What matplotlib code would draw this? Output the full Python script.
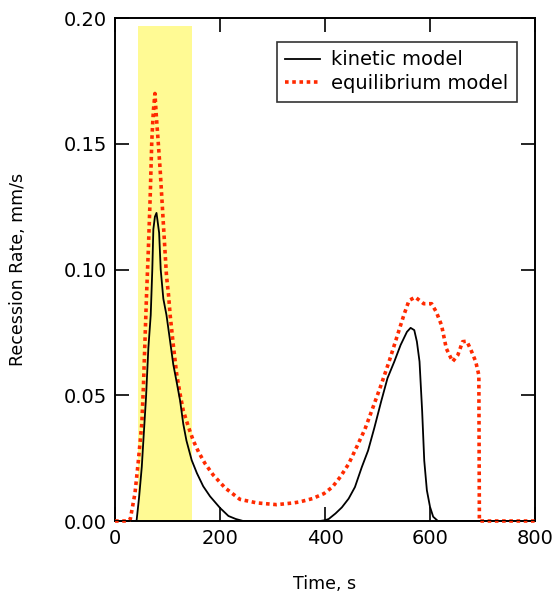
import matplotlib
matplotlib.use("Agg")
import matplotlib.pyplot as plt

# kinetic model (black)
t_kin = [0, 41, 46, 51, 54, 59, 63.5, 68, 71, 73, 76, 79, 84, 87, 92, 98,
         105, 111, 117, 124, 130, 136, 146, 156, 168, 181, 200, 216, 230,
         244, 390, 400, 407, 420, 432, 445, 457, 470, 482, 494, 507, 519,
         532, 544, 556, 563, 570, 575, 580, 585, 589, 594, 600, 606, 615, 800]
r_kin = [0, 0, 0.0098, 0.0216, 0.032, 0.049, 0.0688, 0.0819, 0.100, 0.116,
         0.121, 0.1225, 0.1146, 0.100, 0.0884, 0.0819, 0.0714, 0.0622,
         0.0557, 0.0478, 0.0386, 0.032, 0.0242, 0.019, 0.0138, 0.0098,
         0.0052, 0.002, 0.0008, 0, 0, 0.0003, 0.0008, 0.003, 0.0054, 0.0089,
         0.0135, 0.0214, 0.028, 0.0371, 0.0476, 0.0568, 0.0634, 0.070,
         0.0752, 0.0768, 0.0759, 0.0713, 0.0634, 0.0437, 0.024, 0.0122,
         0.0056, 0.0017, 0, 0]

# equilibrium model (red dotted)
t_eq = [0, 25, 29, 38, 44, 51, 54, 57, 60, 63.5, 67, 70, 73, 76, 79, 82.5,
        86, 89, 92, 95, 98, 102, 105, 111, 117.5, 124, 130, 140, 149, 159,
        171, 187, 210, 238, 270, 308, 340, 352, 376, 398, 414, 429, 445,
        460, 476, 491, 507, 522, 538, 550, 560, 572, 588, 603, 612, 622,
        631, 643, 653, 662, 670, 678, 687, 693, 694, 800]
r_eq = [0, 0, 0.0007, 0.011, 0.023, 0.0386, 0.053, 0.0714, 0.0897, 0.108,
        0.129, 0.151, 0.163, 0.170, 0.160, 0.150, 0.1395, 0.129, 0.1185,
        0.108, 0.0976, 0.0897, 0.0819, 0.070, 0.0583, 0.0504, 0.0439,
        0.0373, 0.032, 0.0275, 0.023, 0.0183, 0.0131, 0.0086, 0.0072,
        0.0065, 0.0072, 0.0076, 0.0089, 0.0109, 0.0135, 0.0175, 0.0227,
        0.0293, 0.0365, 0.045, 0.0542, 0.0634, 0.0739, 0.0818, 0.0877,
        0.089, 0.0864, 0.0864, 0.0831, 0.0778, 0.0686, 0.0634, 0.066,
        0.0713, 0.0715, 0.068, 0.0634, 0.058, 0, 0]

band_x = [44.5, 146]
band_top = 0.197

xticks = [0, 200, 400, 600, 800]
yticks = [0.00, 0.05, 0.10, 0.15, 0.20]

plt.rcParams["font.family"] = ["DejaVu Sans"]

fig = plt.figure(figsize=(5.6, 5.97), dpi=100)
ax = fig.add_axes([0.2054, 0.1273, 0.75, 0.8425])

ax.fill_between(band_x, 0, band_top, color="#fffa94", linewidth=0, zorder=1)
ax.plot(t_kin, r_kin, color="black", linewidth=1.3, label="kinetic model", zorder=4)
ax.plot(t_eq, r_eq, color="#ff2a00", linewidth=2.6, linestyle=(0, (1, 1)),
        dash_capstyle="butt", label="equilibrium model", zorder=3, clip_on=False)

ax.set_xlim(0, 800)
ax.set_ylim(0, 0.20)
ax.set_xticks(xticks)
ax.set_yticks(yticks)
ax.set_yticklabels([f"{v:.2f}" for v in yticks])
ax.tick_params(direction="in", length=10, width=1.2, labelsize=14, pad=6,
               top=True, right=True)
for s in ax.spines.values():
    s.set_linewidth(1.4)

ax.set_xlabel("Time, s", fontsize=12.5, labelpad=19)
ax.set_ylabel("Recession Rate, mm/s", fontsize=12.5, labelpad=26)

leg = ax.legend(loc="upper right", bbox_to_anchor=(0.957, 0.953), fontsize=14,
                frameon=True, fancybox=False, handlelength=1.8,
                borderpad=0.45, labelspacing=0.25, handletextpad=0.55,
                borderaxespad=0)
leg.get_frame().set_edgecolor("black")
leg.get_frame().set_linewidth(1.2)

fig.savefig("out.png", dpi=100)
